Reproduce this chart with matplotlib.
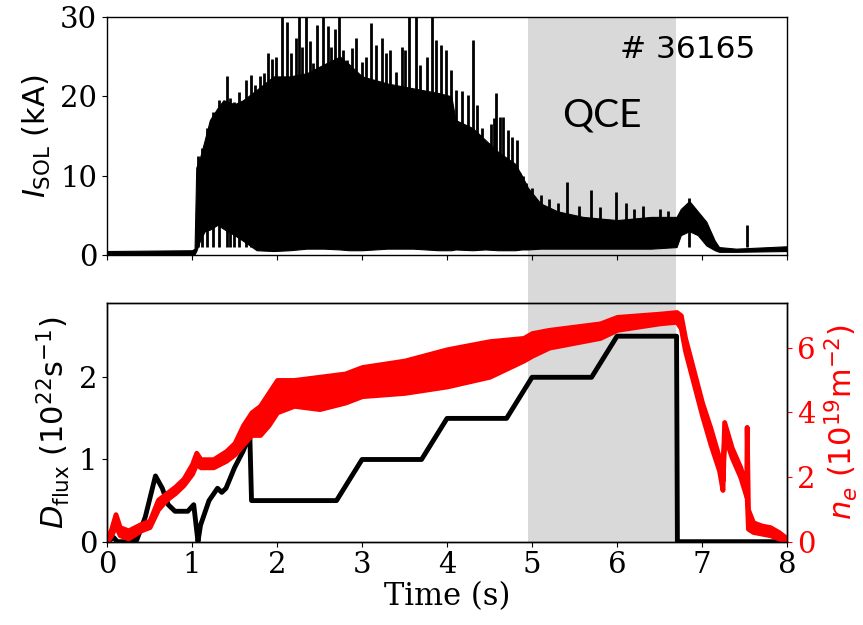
import matplotlib
matplotlib.use("Agg")
import matplotlib.pyplot as plt
import matplotlib.transforms as mtransforms
from matplotlib.patches import Rectangle

# Typical plot parameters
plt.rcParams["font.family"] = "DejaVu Serif"
plt.rcParams["font.size"] = 21
plt.rcParams["axes.linewidth"] = 1.0

# QCE window (s)
qce_start = 4.95
qce_end = 6.69

# I_SOL envelope (kA)
isol_time = [0.0, 1.0, 1.03, 1.05, 1.1, 1.15, 1.21, 1.3, 1.37, 1.5, 1.6, 1.76, 1.96,
             2.15, 2.35, 2.55, 2.74, 2.85, 3.0, 3.3, 3.6, 3.9, 4.05, 4.1, 4.3, 4.45,
             4.6, 4.8, 4.88, 4.95, 5.1, 5.3, 5.6, 6.0, 6.4, 6.7, 6.75, 6.85, 6.95,
             7.05, 7.15, 7.2, 7.4, 8.0]
isol_hi = [0.5, 0.6, 0.8, 11.0, 12.5, 14.5, 17.0, 18.5, 19.5, 19.0, 19.5, 20.8, 22.5,
           22.5, 22.9, 24.0, 25.0, 24.0, 22.5, 21.6, 21.0, 20.4, 20.0, 17.0, 16.0, 14.5,
           13.0, 11.5, 10.0, 8.5, 6.5, 5.5, 4.8, 4.4, 4.8, 4.8, 5.8, 6.8, 5.5,
           4.2, 1.8, 1.0, 0.8, 1.1]
isol_lo = [0.0, 0.0, 0.1, 0.5, 2.0, 3.0, 3.2, 3.8, 3.3, 2.5, 1.8, 0.6, 0.5,
           0.6, 0.8, 0.8, 0.7, 0.6, 0.6, 0.8, 0.8, 0.6, 0.6, 0.7, 0.6, 0.7,
           0.6, 0.6, 0.7, 0.7, 0.8, 0.8, 0.8, 0.8, 0.8, 1.0, 2.5, 3.0, 2.5,
           1.2, 0.6, 0.4, 0.4, 0.5]

# I_SOL spikes (s, kA)
spike_t = [1.07, 1.12, 1.18, 1.25, 1.32, 1.415, 1.447, 1.498, 1.55, 1.635, 1.69, 1.74,
           1.80, 1.847, 1.89, 1.937, 1.988, 2.02, 2.06, 2.121, 2.165, 2.224, 2.263,
           2.29, 2.341, 2.388, 2.427, 2.475, 2.537, 2.596, 2.64, 2.686, 2.733, 2.78,
           2.82, 2.88, 2.93, 3.0, 3.05, 3.11, 3.17, 3.23, 3.28, 3.33, 3.4, 3.47, 3.51,
           3.55, 3.64, 3.68, 3.76, 3.82, 3.87, 3.93, 3.99, 4.05, 4.11, 4.18, 4.25, 4.3,
           4.35, 4.41, 4.52, 4.55, 4.58, 4.62, 4.66, 4.72, 4.76, 4.82, 4.86, 4.89, 4.93,
           5.0, 5.1, 5.2, 5.3, 5.41, 5.55, 5.69, 5.8, 5.99, 6.1, 6.2, 6.3, 6.5, 6.6,
           6.85, 7.53]
spike_h = [12.5, 13.5, 16.0, 18.0, 19.5, 22.5, 19.8, 19.3, 20.5, 22.0, 22.7, 21.4,
           22.5, 22.9, 25.5, 24.7, 25.0, 21.8, 30.0, 29.4, 25.4, 27.3, 30.0,
           26.2, 30.0, 26.9, 24.2, 29.0, 30.0, 28.8, 26.2, 28.5, 30.0, 25.8,
           24.6, 26.1, 27.3, 24.3, 25.0, 29.2, 26.4, 27.3, 25.4, 25.8, 23.1, 26.2, 25.8,
           30.0, 30.0, 23.9, 25.0, 30.0, 27.1, 26.4, 25.8, 23.3, 20.8, 20.6, 20.2, 27.1,
           18.9, 16.0, 16.5, 17.2, 20.4, 17.4, 17.4, 15.7, 14.9, 14.5, 10.3, 9.9, 9.1,
           8.5, 7.5, 7.0, 6.5, 9.2, 6.2, 8.2, 6.0, 8.0, 6.5, 5.8, 6.2, 5.8, 5.6,
           7.2, 3.8]

# D flux (1e22 s^-1)
dflux_time = [0.0, 0.08, 0.12, 0.2, 0.35, 0.45, 0.57, 0.65, 0.72, 0.8, 0.95, 1.02,
              1.07, 1.1, 1.2, 1.3, 1.35, 1.4, 1.5, 1.6, 1.68, 1.7, 2.7, 3.0, 3.7,
              4.0, 4.7, 5.0, 5.7, 6.0, 6.7, 6.71, 8.0]
dflux = [0.0, 0.05, 0.0, 0.0, 0.02, 0.3, 0.8, 0.65, 0.45, 0.37, 0.37, 0.45,
         0.0, 0.2, 0.5, 0.65, 0.6, 0.65, 0.9, 1.1, 1.3, 0.5, 0.5, 1.0, 1.0,
         1.5, 1.5, 2.0, 2.0, 2.5, 2.5, 0.0, 0.0]

# Line-integrated density band (1e19 m^-2)
ne_time = [0.0, 0.05, 0.1, 0.15, 0.25, 0.4, 0.5, 0.6, 0.7, 0.8, 0.9, 1.0, 1.05,
           1.1, 1.25, 1.4, 1.5, 1.6, 1.7, 1.8, 1.9, 2.0, 2.2, 2.5, 2.8, 3.0, 3.5,
           4.0, 4.5, 4.9, 5.0, 5.2, 5.5, 5.8, 6.0, 6.5, 6.7, 6.75, 6.8, 6.9, 7.0,
           7.1, 7.2, 7.24, 7.26, 7.35, 7.45, 7.52, 7.525, 7.54, 7.6, 7.7, 7.8, 7.9, 8.0]
ne_lo = [0.0, 0.2, 0.5, 0.2, 0.1, 0.35, 0.45, 1.0, 1.3, 1.5, 1.75, 2.1, 2.4,
         2.3, 2.3, 2.5, 2.7, 3.0, 3.3, 3.3, 3.6, 4.0, 4.2, 4.1, 4.3, 4.5, 4.6,
         4.8, 5.1, 5.6, 5.75, 6.0, 6.15, 6.3, 6.55, 6.75, 6.8, 6.6, 5.9, 4.9, 3.9,
         3.0, 2.2, 1.6, 3.3, 2.6, 2.0, 1.4, 1.4, 0.4, 0.3, 0.25, 0.2, 0.1, 0.0]
ne_hi = [0.1, 0.4, 0.85, 0.45, 0.35, 0.55, 0.65, 1.3, 1.5, 1.7, 1.95, 2.4, 2.75,
         2.55, 2.55, 2.8, 3.05, 3.6, 4.0, 4.2, 4.6, 5.0, 5.0, 5.1, 5.2, 5.4, 5.6,
         5.95, 6.2, 6.3, 6.45, 6.55, 6.65, 6.75, 6.95, 7.05, 7.1, 7.0, 6.3, 5.3, 4.3,
         3.5, 2.6, 1.9, 3.7, 2.9, 2.3, 1.7, 3.55, 1.0, 0.6, 0.5, 0.45, 0.3, 0.1]

shot_label = "# 36165"
gray = "#d9d9d9"

fig = plt.figure(figsize=(8.63, 6.25), dpi=100)
ax_top = fig.add_axes([0.124, 0.592, 0.788, 0.381])
ax_bot = fig.add_axes([0.124, 0.1333, 0.788, 0.3814])
ax_ne = ax_bot.twinx()

## Top: I_SOL ##
ax_top.axvspan(qce_start, qce_end, color=gray, lw=0, zorder=0)
ax_top.fill_between(isol_time, isol_lo, isol_hi, color="k", lw=0.8, zorder=2)
ax_top.vlines(spike_t, 1.0, spike_h, color="k", lw=2.0, zorder=2)
ax_top.set_xlim(0, 8)
ax_top.set_ylim(0, 30)
ax_top.set_yticks([0, 10, 20, 30])
ax_top.set_xticks(range(9))
ax_top.tick_params(labelbottom=False)
ax_top.set_ylabel(r"$I_{\rm SOL}$ (kA)", family="DejaVu Sans", fontsize=22, labelpad=5)
ax_top.text(6.035, 24.8, shot_label, family="DejaVu Sans", fontsize=22.5)
ax_top.text(5.35, 16.2, "QCE", family="Lato", fontsize=28)

## Bottom: D flux + n_e ##
ax_bot.axvspan(qce_start, qce_end, color=gray, lw=0, zorder=0)
ax_bot.plot(dflux_time, dflux, color="k", lw=3.5)
ax_bot.set_xlim(0, 8)
ax_bot.set_ylim(0, 2.9)
ax_bot.set_yticks([0, 1, 2])
ax_bot.set_xticks(range(9))
ax_bot.set_xlabel("Time (s)", fontsize=22, labelpad=1)
ax_bot.set_ylabel(r"$D_{\rm flux}$ ($10^{22}$s$^{-1}$)", family="DejaVu Sans",
                  fontsize=22, labelpad=5)

ax_ne.fill_between(ne_time, ne_lo, ne_hi, color="r", edgecolor="r", lw=3.5)
ax_ne.set_ylim(0, 7.37)
ax_ne.set_yticks([0, 2, 4, 6])
ax_ne.tick_params(axis="y", colors="r")
ax_ne.spines["right"].set_color("k")
ax_ne.set_ylabel(r"$n_e$ ($10^{19}$m$^{-2}$)", color="r", family="DejaVu Sans",
                 fontsize=22, labelpad=5)

# Bridge the QCE shading across the gap between panels
trans = mtransforms.blended_transform_factory(ax_bot.transData, fig.transFigure)
fig.patches.append(Rectangle((qce_start, 0.514), qce_end - qce_start, 0.08,
                             transform=trans, color=gray, lw=0, zorder=-1))

fig.savefig("out.png", dpi=100)
